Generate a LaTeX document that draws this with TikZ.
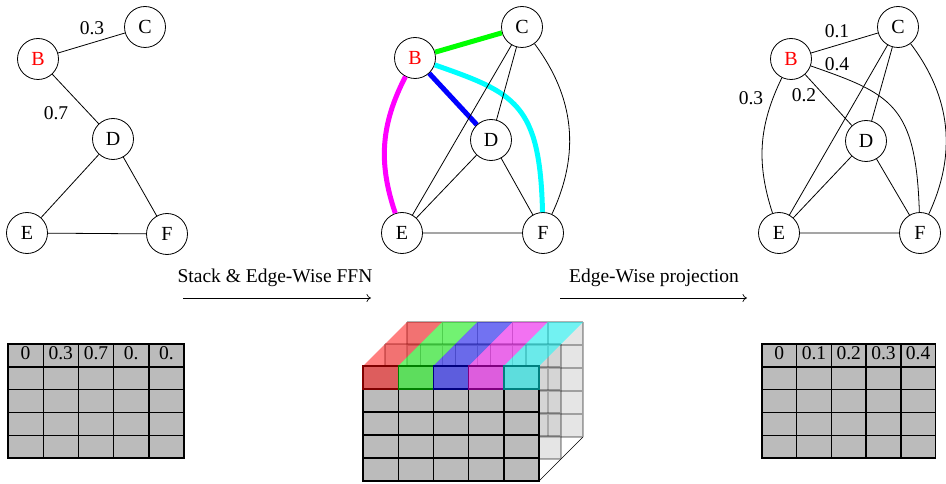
\documentclass[tikz,border=0pt]{standalone}
\usepackage{fontspec}
\setmainfont{Liberation Serif}
\usetikzlibrary{arrows.meta}
\definecolor{cellgray}{HTML}{BBBBBB}
\definecolor{cR}{RGB}{255,0,0}
\definecolor{cG}{RGB}{0,255,0}
\definecolor{cB}{RGB}{0,0,255}
\definecolor{cM}{RGB}{255,0,255}
\definecolor{cC}{RGB}{0,255,255}
\begin{document}
\begin{tikzpicture}[x=1pt,y=1pt,
  vert/.style={circle,draw,line width=0.8pt,minimum size=41pt,inner sep=0pt,fill=white,font=\fontsize{20}{24}\selectfont},
  edge/.style={line width=0.8pt},
  fat/.style={line width=5pt},
  lbl/.style={font=\fontsize{19.5}{23}\selectfont,inner sep=0pt},
  tcell/.style={fill=cellgray,draw=black,line width=1.4pt},
  backgrid/.style={draw=black,draw opacity=0.3,line width=1.4pt},
  arr/.style={-{To[length=4.5pt,width=8pt]},line width=0.7pt}]
\useasboundingbox (0,0) rectangle (946,483);

% ---------- left graph ----------
\node[vert,text=cR] (lB) at (38,424) {B};
\node[vert] (lC) at (145,456) {C};
\node[vert] (lD) at (113,344) {D};
\node[vert] (lE) at (27,250) {E};
\node[vert] (lF) at (167,249) {F};
\draw[edge] (lB)--(lC) (lB)--(lD) (lD)--(lE) (lD)--(lF) (lE)--(lF);
\node[lbl] (l03) at (92,455) {0.3};
\node[lbl] (l07) at (56,370) {0.7};

% ---------- middle graph ----------
\node[vert,text=cR] (mB) at (415,425) {B};
\node[vert] (mC) at (522,456) {C};
\node[vert] (mD) at (491,343) {D};
\node[vert] (mE) at (402,250) {E};
\node[vert] (mF) at (543,250) {F};
\draw[fat,cG] (mB)--(mC);
\draw[fat,cB] (mB)--(mD);
\draw[fat,cC] (mB) .. controls (515,390) and (540,380) .. (mF);
\draw[fat,cM] (mB) to[bend right=23] (mE);
\draw[edge] (mC)--(mE) (mC)--(mD) (mD)--(mE) (mD)--(mF) (mE)--(mF);
\draw[edge] (mC) to[bend left=31] (mF);

% ---------- right graph ----------
\node[vert,text=cR] (rB) at (791,424) {B};
\node[vert] (rC) at (898,456) {C};
\node[vert] (rD) at (866,342) {D};
\node[vert] (rE) at (779,250) {E};
\node[vert] (rF) at (920,250) {F};
\draw[edge] (rB)--(rC) (rB)--(rD) (rC)--(rE) (rC)--(rD) (rD)--(rE) (rD)--(rF) (rE)--(rF);
\draw[edge] (rB) .. controls (891,389) and (916,379) .. (rF);
\draw[edge] (rB) to[bend right=22] (rE);
\draw[edge] (rC) to[bend left=31] (rF);
\node[lbl] (r01) at (837,452) {0.1};
\node[lbl] (r04) at (837,419) {0.4};
\node[lbl] (r02) at (804,388) {0.2};
\node[lbl] (r03) at (751,385) {0.3};

% ---------- arrows ----------
\coordinate (a1s) at (183,185);
\coordinate (a1e) at (371,185);
\draw[arr] (a1s)--(a1e);
\node[lbl] (t1) at (275,205) {Stack \& Edge-Wise FFN};
\coordinate (a2s) at (560,185);
\coordinate (a2e) at (747,185);
\draw[arr] (a2s)--(a2e);
\node[lbl] (t2) at (654,205) {Edge-Wise projection};

% ---------- left table ----------
\foreach \i in {0,...,4} \foreach \j in {0,...,4}
  \draw[tcell] ({8+35.2*\i},{139-22.8*\j}) rectangle +(35.2,-22.8);
\foreach \t [count=\n from 0] in {0,0.3,0.7,0.,0.}
  \node[lbl] (lt\n) at ({8+35.2*\n+17.6},129.5) {\t};

% ---------- right table ----------
\foreach \i in {0,...,4} \foreach \j in {0,...,4}
  \draw[tcell] ({762+34.7*\i},{139-22.8*\j}) rectangle +(34.7,-22.8);
\foreach \t [count=\n from 0] in {0,0.1,0.2,0.3,0.4}
  \node[lbl] (rt\n) at ({762+34.7*\n+17.35},129.5) {\t};

% ---------- cube ----------
\foreach \k in {2,1}{
  \fill[cellgray,opacity=0.38] ({363+22*\k},{2+22*\k}) rectangle ({539+22*\k},{117+22*\k});
  \draw[backgrid]
    \foreach \c in {0,...,5}{ ({363+22*\k+35.2*\c},{2+22*\k}) -- ({363+22*\k+35.2*\c},{117+22*\k}) }
    \foreach \r in {0,...,5}{ ({363+22*\k},{2+22*\k+23*\r}) -- ({539+22*\k},{2+22*\k+23*\r}) };
}
\foreach \col [count=\n from 0] in {cR,cG,cB,cM,cC}
  \fill[\col,opacity=0.5] ({363+35.2*\n},117) -- ({398.2+35.2*\n},117) -- ({442.2+35.2*\n},161) -- ({407+35.2*\n},161) -- cycle;
\foreach \i in {0,...,4} \foreach \j in {1,...,4}
  \draw[tcell] ({363+35.2*\i},{117-23*\j}) rectangle +(35.2,-23);
\foreach \col [count=\n from 0] in {cR,cG,cB,cM,cC}{
  \fill[cellgray] ({363+35.2*\n},117) rectangle +(35.2,-23);
  \fill[\col,opacity=0.5] ({363+35.2*\n},117) rectangle +(35.2,-23);
  \draw[\col!50!black,line width=1.4pt] ({363+35.2*\n},117) rectangle +(35.2,-23);
}
\draw[line width=0.5pt] (539,2) -- (583,46);
\end{tikzpicture}
\end{document}
